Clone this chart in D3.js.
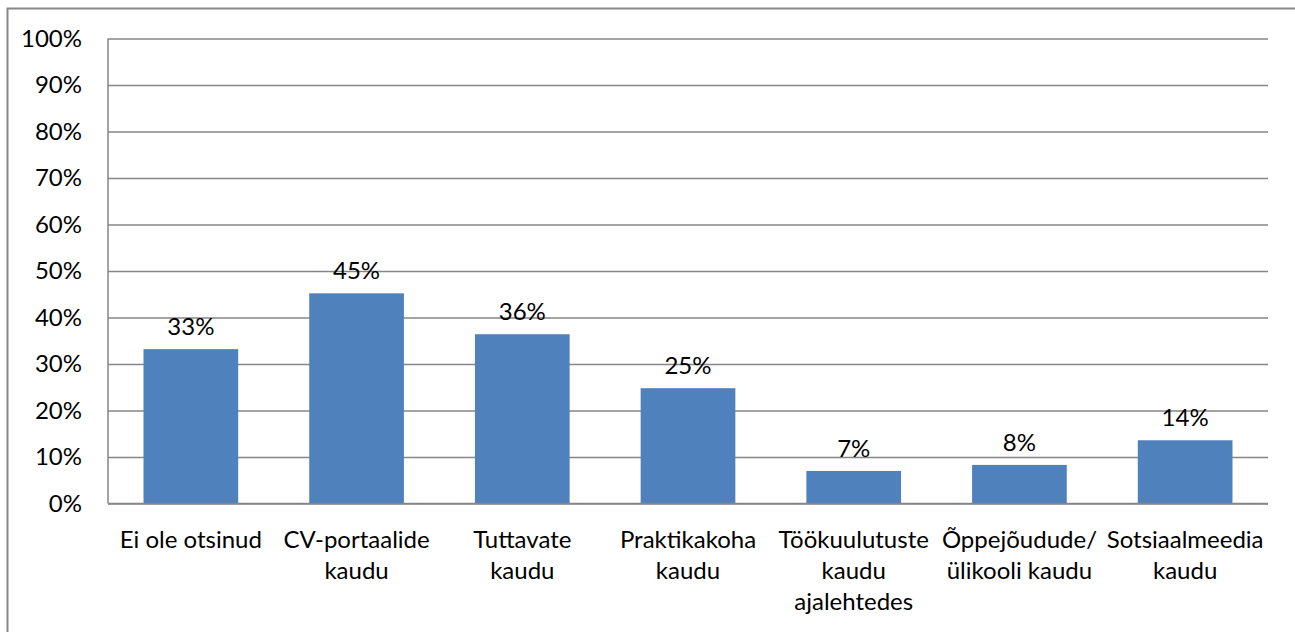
<!DOCTYPE html>
<html>
<head>
<meta charset="utf-8">
<script src="https://cdn.jsdelivr.net/npm/d3@7"></script>
<style>
  body { margin: 0; background: #fff; }
  svg text { font-family: Lato, "Open Sans", sans-serif; fill: #000; }
</style>
</head>
<body>
<div id="graph"></div>
<script>
// chart data
var categories = ["Ei ole otsinud", "CV-portaalide kaudu", "Tuttavate kaudu", "Praktikakoha kaudu",
  "Töökuulutuste kaudu ajalehtedes", "Õppejõudude/ ülikooli kaudu", "Sotsiaalmeedia kaudu"];
var categoryLines = [
  ["Ei ole otsinud"],
  ["CV-portaalide", "kaudu"],
  ["Tuttavate", "kaudu"],
  ["Praktikakoha", "kaudu"],
  ["Töökuulutuste", "kaudu", "ajalehtedes"],
  ["Õppejõudude/", "ülikooli kaudu"],
  ["Sotsiaalmeedia", "kaudu"]
];
var values = [33.2, 45.2, 36.4, 24.8, 7.0, 8.3, 13.6];
var valueLabels = ["33%", "45%", "36%", "25%", "7%", "8%", "14%"];
var yTicks = [0, 10, 20, 30, 40, 50, 60, 70, 80, 90, 100];

function drawChart() {
  var svgWidth = 1295, svgHeight = 632;
  var margin = { top: 38.5, right: 27, bottom: 128.5, left: 108 };
  var width = svgWidth - margin.left - margin.right;
  var height = svgHeight - margin.top - margin.bottom;

  var svg = d3.select('#graph')
    .append('svg')
      .attr("width", svgWidth)
      .attr("height", svgHeight);

  // outer chart border
  svg.append("rect")
      .attr("x", 7.5)
      .attr("y", 8.5)
      .attr("width", svgWidth)
      .attr("height", svgHeight)
      .attr("fill", "none")
      .attr("stroke", "#878787")
      .attr("stroke-width", 2);

  var g = svg.append("g")
      .attr("transform", "translate(" + margin.left + "," + margin.top + ")");

  var x = d3.scaleBand()
      .domain(categories)
      .range([0, width])
      .paddingInner(0.75 / 1.75)
      .paddingOuter(0.375 / 1.75);

  var y = d3.scaleLinear()
      .domain([0, 100])
      .range([height, 0]);

  // gridlines + y labels
  var yAxis = g.append("g")
      .call(d3.axisLeft(y)
        .tickValues(yTicks)
        .tickSize(-width)
        .tickPadding(26)
        .tickFormat(function(d) { return d + "%"; }));
  yAxis.select(".domain").remove();
  yAxis.selectAll(".tick line")
      .attr("stroke", "#868686")
      .attr("stroke-width", 1.5);
  yAxis.selectAll(".tick text")
      .attr("font-size", 24)
      .attr("font-family", "Lato, sans-serif");

  // left axis line
  g.append("line")
      .attr("x1", 0).attr("x2", 0)
      .attr("y1", 0).attr("y2", height)
      .attr("stroke", "#868686")
      .attr("stroke-width", 1.5);

  // bars
  g.selectAll(".bar")
    .data(values)
    .enter().append("rect")
      .attr("class", "bar")
      .attr("x", function(d, i) { return x(categories[i]); })
      .attr("width", x.bandwidth())
      .attr("y", function(d) { return y(d); })
      .attr("height", function(d) { return height - y(d); })
      .attr("fill", "#4F81BD");

  // value labels
  g.selectAll(".vlabel")
    .data(values)
    .enter().append("text")
      .attr("class", "vlabel")
      .attr("x", function(d, i) { return x(categories[i]) + x.bandwidth() / 2; })
      .attr("y", function(d) { return y(d) - 14; })
      .attr("text-anchor", "middle")
      .attr("font-size", 24)
      .text(function(d, i) { return valueLabels[i]; });

  // bottom axis baseline (drawn on top of bars)
  g.append("line")
      .attr("x1", 0).attr("x2", width)
      .attr("y1", height).attr("y2", height)
      .attr("stroke", "#868686")
      .attr("stroke-width", 1.5);

  // category labels
  var cat = g.selectAll(".cat")
    .data(categories)
    .enter().append("text")
      .attr("class", "cat")
      .attr("text-anchor", "middle")
      .attr("font-size", 24)
      .attr("transform", function(d) {
        return "translate(" + (x(d) + x.bandwidth() / 2) + "," + (height + 44) + ")";
      });
  cat.selectAll("tspan")
    .data(function(d, i) { return categoryLines[i]; })
    .enter().append("tspan")
      .attr("x", 0)
      .attr("y", function(d, j) { return j * 31; })
      .text(function(d) { return d; });
}

drawChart();
</script>
</body>
</html>
